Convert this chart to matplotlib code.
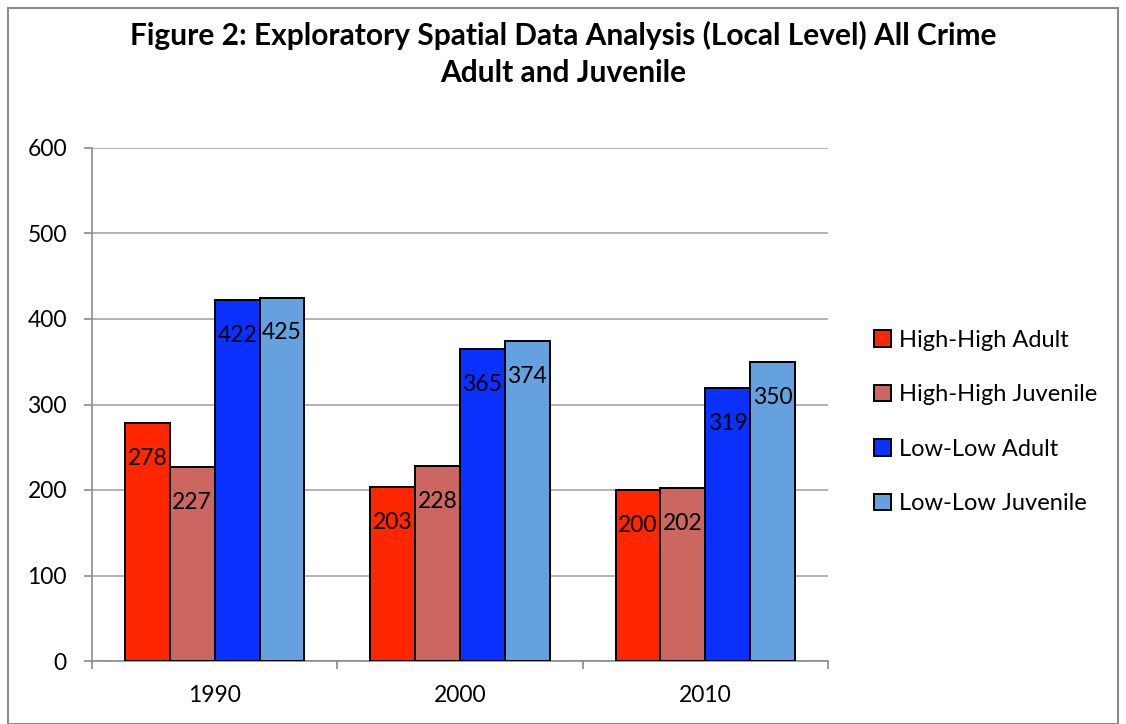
import matplotlib
matplotlib.use('Agg')
import matplotlib.pyplot as plt
from matplotlib.patches import Rectangle
import numpy as np

plt.rcParams['font.family'] = ['Lato', 'DejaVu Sans']

years = ['1990', '2000', '2010']
series_names = ['High-High Adult', 'High-High Juvenile', 'Low-Low Adult', 'Low-Low Juvenile']
high_high_adult = [278, 203, 200]
high_high_juvenile = [227, 228, 202]
low_low_adult = [422, 365, 319]
low_low_juvenile = [425, 374, 350]
y_ticks = [0, 100, 200, 300, 400, 500, 600]

series_values = [high_high_adult, high_high_juvenile, low_low_adult, low_low_juvenile]
series_colors = ['#FF2600', '#CC6660', '#0A31FF', '#65A1DE']

fig = plt.figure(figsize=(11.26, 7.24), dpi=100)
fig.patches.append(Rectangle((8 / 1126, 0.0), 1110 / 1126, 1 - 8 / 724,
                             transform=fig.transFigure, fill=False,
                             edgecolor='#8C8C8C', linewidth=1.5))

ax = fig.add_axes([92 / 1126, 1 - 661 / 724, 736 / 1126, 513 / 724])

bar_w = 0.183
x = np.arange(len(years))
for i, (vals, name, col) in enumerate(zip(series_values, series_names, series_colors)):
    offs = (i - 1.5) * bar_w
    bars = ax.bar(x + offs, vals, bar_w, color=col, edgecolor='black',
                  linewidth=1.4, label=name, zorder=3)
    ax.bar_label(bars, labels=[str(v) for v in vals], label_type='edge',
                 padding=-33, fontsize=16.5, color='black', zorder=4)

ax.set_xlim(-0.5, len(years) - 0.5)
ax.set_ylim(0, 600)
ax.set_yticks(y_ticks)
ax.set_xticks(x)
ax.set_xticklabels(years)
ax.set_xticks(np.arange(len(years) + 1) - 0.5, minor=True)
ax.tick_params(axis='x', which='major', length=0, pad=17, labelsize=16.5)
ax.tick_params(axis='x', which='minor', length=6, color='#8C8C8C', width=1.2)
ax.tick_params(axis='y', length=6, color='#8C8C8C', width=1.2, pad=12, labelsize=16.5)
ax.grid(axis='y', color='#A6A6A6', linewidth=1.2, zorder=0)
for side in ['top', 'right']:
    ax.spines[side].set_visible(False)
for side in ['left', 'bottom']:
    ax.spines[side].set_color('#8C8C8C')
    ax.spines[side].set_linewidth(1.2)

fig.text(0.5, 1 - 35 / 724, 'Figure 2: Exploratory Spatial Data Analysis (Local Level) All Crime',
         ha='center', va='center', fontsize=21.5, fontweight='bold')
fig.text(0.5, 1 - 73 / 724, 'Adult and Juvenile',
         ha='center', va='center', fontsize=21.5, fontweight='bold')

fig.legend(loc='center left', bbox_to_anchor=(853 / 1126, 1 - 422 / 724),
           frameon=False, fontsize=17, handlelength=0.7, handleheight=0.7,
           handletextpad=0.35, labelspacing=1.42)

fig.savefig('out.png', dpi=100)
